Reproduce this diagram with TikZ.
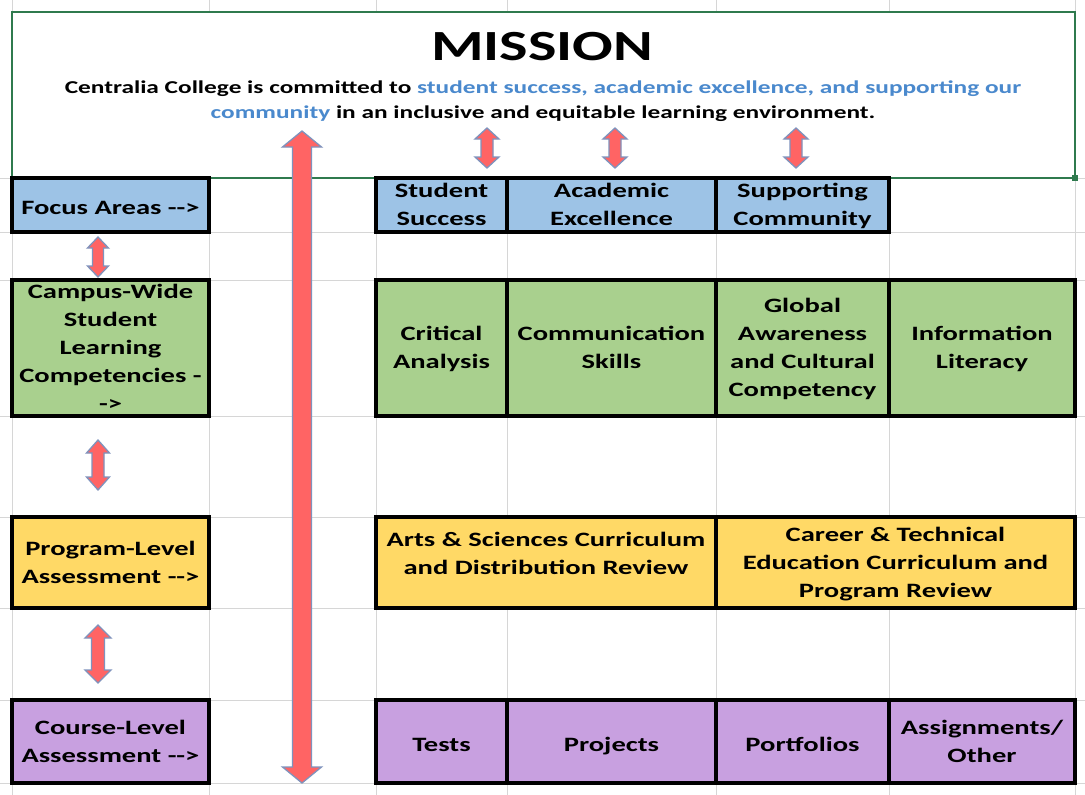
\documentclass[tikz,border=0pt]{standalone}
\usepackage{fontspec}
\setmainfont{Carlito}[FakeStretch=1.4]
\usetikzlibrary{calc}

\definecolor{gridgray}{HTML}{D6D6D6}
\definecolor{missiongreen}{HTML}{2F7A4E}
\definecolor{mblue}{HTML}{4A89CD}
\definecolor{cblue}{HTML}{9DC3E6}
\definecolor{cgreen}{HTML}{A9D08E}
\definecolor{cyellow}{HTML}{FFD966}
\definecolor{cpurple}{HTML}{C8A0E0}
\definecolor{arrowfill}{HTML}{FF6464}
\definecolor{arrowline}{HTML}{7F93BD}

\newcommand{\boxfont}{\fontsize{20.4}{28}\selectfont\bfseries}

% double-headed block arrow: x, y of top tip, y of bottom tip, half head width, half shaft width, head length
\newcommand{\dblarrow}[6]{%
  \filldraw[blockarrow] (#1,#2) -- (#1+#4,#2+#6) -- (#1+#5,#2+#6) -- (#1+#5,#3-#6)
    -- (#1+#4,#3-#6) -- (#1,#3) -- (#1-#4,#3-#6) -- (#1-#5,#3-#6)
    -- (#1-#5,#2+#6) -- (#1-#4,#2+#6) -- cycle;}

% table cell: name, x left, x right, y top, y bottom, fill, text
\newcommand{\cellat}[7]{%
  \node[cell, fill=#6, minimum width={#3-#2}, minimum height={#5-#4}]
    (#1) at ({(#2+#3)/2},{(#4+#5)/2}) {};
  \node[celltext] (#1-text) at (#1.center) {#7};}

\tikzset{
  gridline/.style={draw=gridgray, line width=1pt},
  celltext/.style={align=center, inner sep=0pt, font=\boxfont, yshift=-4pt,
    execute at begin node=\strut, execute at end node=\strut},
  cell/.style={draw=black, line width=3.5pt, inner sep=0pt},
  blockarrow/.style={fill=arrowfill, draw=arrowline, line width=1.3pt, line join=miter},
  missionbox/.style={draw=missiongreen, fill=white, line width=2pt},
}

\begin{document}
\begin{tikzpicture}[x=1pt, y=-1pt]
\useasboundingbox (0,0) rectangle (1085,795);
\fill[white] (0,0) rectangle (1085,795);

% spreadsheet grid
\foreach \gx in {12,209,376,507,716,889,1075}
  \draw[gridline] (\gx,0) -- (\gx,795);
\foreach \gy in {178,232,280,416,517,608,700,783}
  \draw[gridline] (0,\gy) -- (1085,\gy);

% mission statement
\draw[missionbox] (12,12) rectangle (1075,178);
\fill[missiongreen] (1072,175) rectangle (1078,181);
\node[anchor=base, font=\fontsize{43}{50}\selectfont\bfseries] (title) at (542,60) {MISSION};
\node[anchor=base, font=\fontsize{18.1}{25}\selectfont\bfseries] (mline1) at (543,93)
  {Centralia College is committed to \textcolor{mblue}{student success, academic excellence, and supporting our}};
\node[anchor=base, font=\fontsize{18.1}{25}\selectfont\bfseries] (mline2) at (543,118)
  {\textcolor{mblue}{community} in an inclusive and equitable learning environment.};

% row labels
\cellat{fa}{12}{209}{178}{232}{cblue}{Focus Areas -{}->}
\cellat{cw}{12}{209}{280}{416}{cgreen}{Campus-Wide\\Student\\Learning\\Competencies -\\->}
\cellat{pl}{12}{209}{517}{608}{cyellow}{Program-Level\\Assessment -{}->}
\cellat{cl}{12}{209}{700}{783}{cpurple}{Course-Level\\Assessment -{}->}

% focus areas
\cellat{ss}{376}{507}{178}{232}{cblue}{Student\\Success}
\cellat{ae}{507}{716}{178}{232}{cblue}{Academic\\Excellence}
\cellat{sc}{716}{889}{178}{232}{cblue}{Supporting\\Community}

% competencies
\cellat{ca}{376}{507}{280}{416}{cgreen}{Critical\\Analysis}
\cellat{cs}{507}{716}{280}{416}{cgreen}{Communication\\Skills}
\cellat{ga}{716}{889}{280}{416}{cgreen}{Global\\Awareness\\and Cultural\\Competency}
\cellat{il}{889}{1075}{280}{416}{cgreen}{Information\\Literacy}

% program-level assessment
\cellat{as}{376}{716}{517}{608}{cyellow}{}
\node[celltext] (as-body) at (546,554) {Arts \& Sciences Curriculum\\and Distribution Review};
\cellat{ct}{716}{1075}{517}{608}{cyellow}{Career \& Technical\\Education Curriculum and\\Program Review}

% course-level assessment
\cellat{te}{376}{507}{700}{783}{cpurple}{Tests}
\cellat{pr}{507}{716}{700}{783}{cpurple}{Projects}
\cellat{po}{716}{889}{700}{783}{cpurple}{Portfolios}
\cellat{ao}{889}{1075}{700}{783}{cpurple}{Assignments/\\Other}

% arrows linking the levels
\dblarrow{302}{131}{783}{19.5}{9.5}{16}
\dblarrow{487}{128}{168}{12}{6}{11}
\dblarrow{615}{128}{168}{12}{6}{11}
\dblarrow{796}{128}{168}{12}{6}{11}
\dblarrow{98}{237}{277}{10.5}{5.5}{11}
\dblarrow{98}{440}{490}{11.5}{6}{13}
\dblarrow{98}{625}{683}{13}{6.5}{13}
\end{tikzpicture}
\end{document}
